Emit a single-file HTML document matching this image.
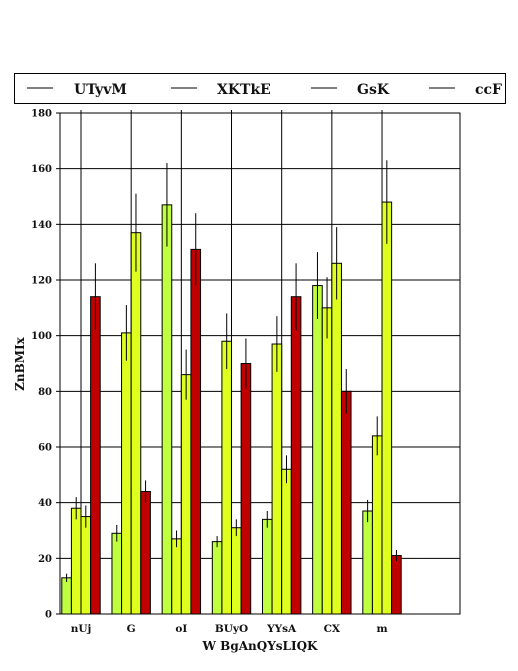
<!DOCTYPE html>
<html><head><meta charset="utf-8"><style>
body{margin:0;background:#fff;}
svg text{font-family:"DejaVu Serif","Liberation Serif",serif;font-weight:bold;fill:#111;}
</style></head><body>
<svg id="chart" width="518" height="666" xmlns="http://www.w3.org/2000/svg">
<g id="legend">
<rect x="14.5" y="73.5" width="491" height="30" fill="#fff" stroke="#000" stroke-width="1"/>
</g>
<g id="grid"></g><g id="bars"></g><g id="axes"></g>
</svg>
<script>
const categories=["nUj","G","oI","BUyO","YYsA","CX","m"];
const seriesNames=["UTyvM","XKTkE","GsK","ccF"];
const s1=[13,29,147,26,34,118,37];
const s2=[38,101,27,98,97,110,64];
const s3=[35,137,86,31,52,126,148];
const s4=[114,44,131,90,114,80,21];
const e1=[1.5,3,15,2,3,12,4];
const e2=[4,10,3,10,10,11,7];
const e3=[4,14,9,3,5,13,15];
const e4=[12,4,13,9,12,8,2];
const yTicks=[0,20,40,60,80,100,120,140,160,180];
const colors=["#bfff3f","#dfff1f","#dfff1f","#c00000"];
const NS="http://www.w3.org/2000/svg";
const L=60,R=460,T=113,B=614;
const y=v=>B-(v/180)*(B-T);
const xc=i=>L+21+i*50.17;
const bw=9.6;
function mk(tag,attrs,parent){const e=document.createElementNS(NS,tag);for(const k in attrs)e.setAttribute(k,attrs[k]);parent.appendChild(e);return e;}
const grid=document.getElementById('grid'),bars=document.getElementById('bars'),axes=document.getElementById('axes'),leg=document.getElementById('legend');
yTicks.forEach(t=>{
 const l=mk('line',{x1:L,x2:R,y1:y(t),y2:y(t),stroke:'#000','stroke-width':1},grid);
 
 
 const tk=mk('line',{x1:L-4,x2:L,y1:y(t),y2:y(t),stroke:'#000'},axes);
 
 
 const tx=mk('text',{x:L-8,y:y(t)+3.5,'text-anchor':'end','font-size':10},axes);
 tx.textContent=t;
 
 
});
categories.forEach((c,i)=>{
 const g=mk('line',{x1:xc(i),x2:xc(i),y1:T-3,y2:B,stroke:'#000','stroke-width':1},grid);
 
 
 const tx=mk('text',{x:xc(i),y:B+18,'text-anchor':'middle','font-size':10.5},axes);
 tx.textContent=c;
 
 
});
const vals=[s1,s2,s3,s4],errs=[e1,e2,e3,e4];
vals.forEach((s,k)=>{
 s.forEach((v,i)=>{
  const x0=xc(i)-2*bw+k*bw;
  const r=mk('rect',{x:x0,y:y(v),width:bw,height:B-y(v),fill:colors[k],stroke:'#000','stroke-width':1},bars);
  
  
  const e=mk('line',{x1:x0+bw/2,x2:x0+bw/2,y1:y(v+errs[k][i]),y2:y(v-errs[k][i]),stroke:'#000','stroke-width':1},bars);
  
  
 });
});
const ax=mk('rect',{x:L,y:T,width:R-L,height:B-T,fill:'none',stroke:'#000','stroke-width':1},axes);


const xt=mk('text',{x:260,y:650,'text-anchor':'middle','font-size':12},axes);
xt.textContent='W BgAnQYsLIQK';


const yt=mk('text',{x:0,y:0,'text-anchor':'middle','font-size':12,transform:'translate(24,364) rotate(-90)'},axes);
yt.textContent='ZnBMIx';


const lx=[27,171,311,429],tx=[74,217,357,475];
seriesNames.forEach((n,k)=>{
 const l=mk('line',{x1:lx[k],x2:lx[k]+26,y1:88,y2:88,stroke:'#000','stroke-width':1},leg);
 
 
 const t=mk('text',{x:tx[k],y:94,'font-size':14},leg);
 t.textContent=n;
 
 
});
</script>
</body></html>
